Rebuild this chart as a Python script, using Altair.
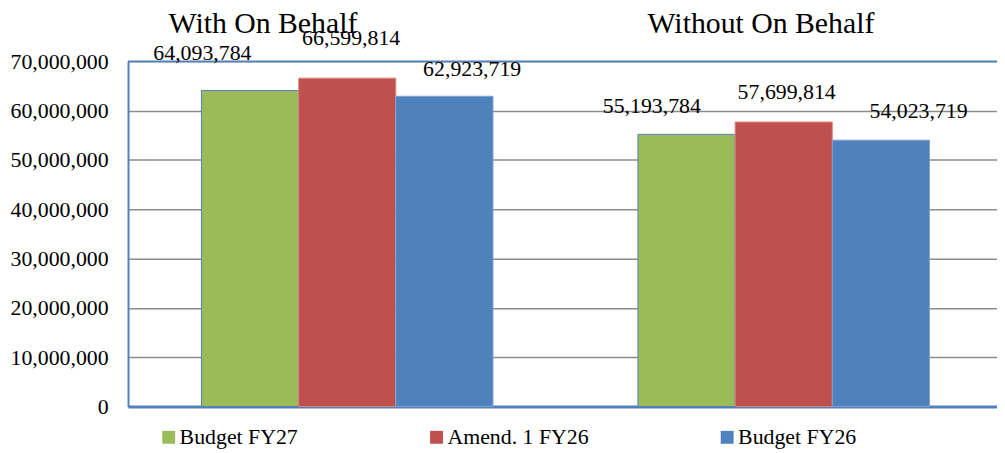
import altair as alt
import pandas as pd

groups = ["With On Behalf", "Without On Behalf"]
series = ["Budget FY27", "Amend. 1 FY26", "Budget FY26"]
with_vals = [64093784, 66599814, 62923719]
without_vals = [55193784, 57699814, 54023719]
colors = ["#9BBB59", "#C0504D", "#4F81BD"]
y_ticks = [0, 10000000, 20000000, 30000000, 40000000, 50000000, 60000000, 70000000]
y_top = 70000000

rows = []
for g, vals in zip(groups, [with_vals, without_vals]):
    for s, v in zip(series, vals):
        rows.append({"group": g, "series": s, "value": v})
df = pd.DataFrame(rows)
top_df = pd.DataFrame({"group": groups, "value": [y_top, y_top]})

FONT = "Liberation Serif"

x_scale = alt.Scale(domain=groups, paddingInner=0.332, paddingOuter=0.1614, align=0.521)
x_axis = alt.Axis(title=None, labels=False, ticks=False, grid=False,
                  domainColor="#4F81BD", domainWidth=3)
y_scale = alt.Scale(domain=[0, y_top], nice=False)
y_axis = alt.Axis(title=None, values=y_ticks, format=",",
                  labelExpr="format(datum.value, ',')",
                  labelFont=FONT, labelFontSize=22, labelColor="black",
                  labelPadding=20, ticks=False,
                  domainColor="#4F81BD", domainWidth=2,
                  gridColor="#8C8C8C", gridWidth=1.5)

x_enc = alt.X("group:N", sort=groups, scale=x_scale, axis=x_axis)
xo_enc = alt.XOffset("series:N", sort=series,
                     scale=alt.Scale(domain=series, paddingInner=0, paddingOuter=0))
y_enc = alt.Y("value:Q", scale=y_scale, axis=y_axis)

bars = alt.Chart(df).mark_bar(strokeWidth=1).encode(
    x=x_enc,
    xOffset=xo_enc,
    y=y_enc,
    color=alt.Color(
        "series:N", sort=series,
        scale=alt.Scale(domain=series, range=colors),
        legend=alt.Legend(title=None, orient="none", legendX=30, legendY=368,
                          direction="horizontal", symbolType="square", symbolSize=169,
                          symbolStrokeWidth=0, labelFont=FONT, labelFontSize=22,
                          labelColor="black", labelOffset=0, columnPadding=128),
    ),
    stroke=alt.Stroke("series:N", sort=series,
                      scale=alt.Scale(domain=series, range=["#4F81BD", "#D98A88", "#7FA3D3"]),
                      legend=None),
)

# label offsets (dx, dy) per group and series
label_offsets = {
    ("With On Behalf", "Budget FY27"): (-48, -31),
    ("With On Behalf", "Amend. 1 FY26"): (4, -33),
    ("With On Behalf", "Budget FY26"): (28, -20),
    ("Without On Behalf", "Budget FY27"): (-35, -22),
    ("Without On Behalf", "Amend. 1 FY26"): (3, -23),
    ("Without On Behalf", "Budget FY26"): (38, -22),
}
label_layers = []
for (g, s), (dx, dy) in label_offsets.items():
    label_layers.append(
        alt.Chart(df).transform_filter((alt.datum.series == s) & (alt.datum.group == g))
        .mark_text(font=FONT, fontSize=22, color="black", baseline="alphabetic", dx=dx, dy=dy)
        .encode(x=x_enc, xOffset=xo_enc, y=y_enc, text=alt.Text("value:Q", format=","))
    )

top_border = alt.Chart(top_df).transform_filter(alt.datum.group == groups[0]).mark_rule(
    color="#4F81BD", strokeWidth=2).encode(y=y_enc)

title_dx = [-85, -23]
title_layers = []
for g, dx in zip(groups, title_dx):
    title_layers.append(
        alt.Chart(top_df).transform_filter(alt.datum.group == g)
        .mark_text(font=FONT, fontSize=30, color="black", baseline="alphabetic", dx=dx, dy=-29)
        .encode(x=x_enc, y=y_enc, text="group:N")
    )

chart = alt.layer(bars, top_border, *label_layers, *title_layers).properties(
    width=876, height=348,
    autosize=alt.AutoSizeParams(type="none"),
    padding={"left": 121, "top": 52, "right": 0, "bottom": 45},
).configure_view(stroke=None).configure_axis(
    labelFont=FONT, labelFontSize=22, labelColor="black"
).configure_legend(
    labelFont=FONT, labelFontSize=22, labelColor="black"
).configure_text(font=FONT)

chart.save("out.html", embed_options={"renderer": "svg", "actions": False})
